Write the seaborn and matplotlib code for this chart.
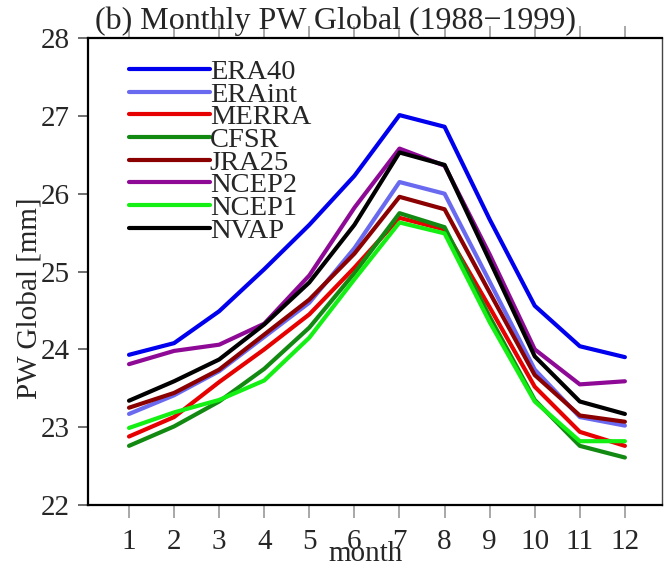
import numpy as np
import pandas as pd
import matplotlib
matplotlib.use("Agg")
import matplotlib.pyplot as plt
import seaborn as sns

months = list(range(1, 13))
datasets = ["ERA40", "ERAint", "MERRA", "CFSR", "JRA25", "NCEP2", "NCEP1", "NVAP"]

era40 = [23.93, 24.08, 24.49, 25.03, 25.60, 26.23, 27.01, 26.86, 25.67, 24.56, 24.04, 23.90]
eraint = [23.17, 23.41, 23.72, 24.16, 24.60, 25.30, 26.15, 26.00, 24.87, 23.74, 23.13, 23.02]
merra = [22.88, 23.13, 23.58, 24.00, 24.45, 25.05, 25.69, 25.54, 24.54, 23.52, 22.94, 22.76]
cfsr = [22.76, 23.01, 23.33, 23.75, 24.28, 24.98, 25.75, 25.57, 24.42, 23.35, 22.76, 22.61]
jra25 = [23.25, 23.44, 23.74, 24.19, 24.64, 25.23, 25.96, 25.80, 24.73, 23.67, 23.15, 23.07]
ncep2 = [23.81, 23.98, 24.06, 24.33, 24.95, 25.82, 26.58, 26.36, 25.22, 24.00, 23.55, 23.59]
ncep1 = [22.99, 23.19, 23.35, 23.60, 24.15, 24.90, 25.63, 25.49, 24.35, 23.33, 22.82, 22.82]
nvap = [23.34, 23.59, 23.87, 24.32, 24.86, 25.60, 26.53, 26.37, 25.14, 23.91, 23.33, 23.17]

series = [era40, eraint, merra, cfsr, jra25, ncep2, ncep1, nvap]
colors = ["#0000ee", "#6a6af0", "#e60000", "#128a12", "#8b0000", "#8e0a96", "#14f014", "#000000"]

yticks = [22, 23, 24, 25, 26, 27, 28]

rows = []
for name, vals in zip(datasets, series):
    for m, v in zip(months, vals):
        rows.append({"month": m, "PW": v, "dataset": name})
df = pd.DataFrame(rows)

sns.set_style("ticks")
plt.rcParams["font.family"] = ["Liberation Serif", "DejaVu Serif"]

fig = plt.figure(figsize=(6.65, 5.68), dpi=100)
ax = fig.add_axes([0.1323, 0.1109, 0.863, 0.8221])

sns.lineplot(data=df, x="month", y="PW", hue="dataset", hue_order=datasets,
             palette=dict(zip(datasets, colors)), linewidth=3, ax=ax,
             legend=True)

ax.set_xlim(0.09, 12.82)
ax.set_ylim(22, 28)
ax.set_xticks(months)
ax.set_xticklabels([str(m) for m in months])
ax.set_yticks(yticks)
ax.set_yticklabels([str(t) for t in yticks])
ax.set_xlabel("")
ax.set_ylabel("")

ax.tick_params(axis="x", which="both", direction="out", length=9, width=1.2,
               color="#999999", labelsize=21, pad=8, top=True, labeltop=False)
ax.tick_params(axis="y", which="both", direction="out", length=7, width=1.2,
               color="#555555", labelsize=21, pad=6, right=False)
for side in ["left", "bottom", "top"]:
    ax.spines[side].set_linewidth(1.6)
    ax.spines[side].set_color("black")
ax.spines["right"].set_linewidth(1.0)
ax.spines["right"].set_color("#444444")

leg = ax.legend(loc="upper left", bbox_to_anchor=(0.071, 0.955), frameon=False,
                fontsize=20.5, handlelength=2.85, handletextpad=0.0,
                labelspacing=-0.115, borderpad=0, borderaxespad=0)
for line in leg.get_lines():
    line.set_linewidth(3)

ax.text(0.012, 1.004, "(b) Monthly PW Global (1988\u22121999)", transform=ax.transAxes,
        ha="left", va="bottom", fontsize=23)

fig.text(0.044, 0.475, "PW Global [mm]", rotation=90, ha="center", va="center", fontsize=21)
fig.text(0.549, 0.025, "month", ha="center", va="center", fontsize=21)

fig.savefig("out.png", dpi=100)
